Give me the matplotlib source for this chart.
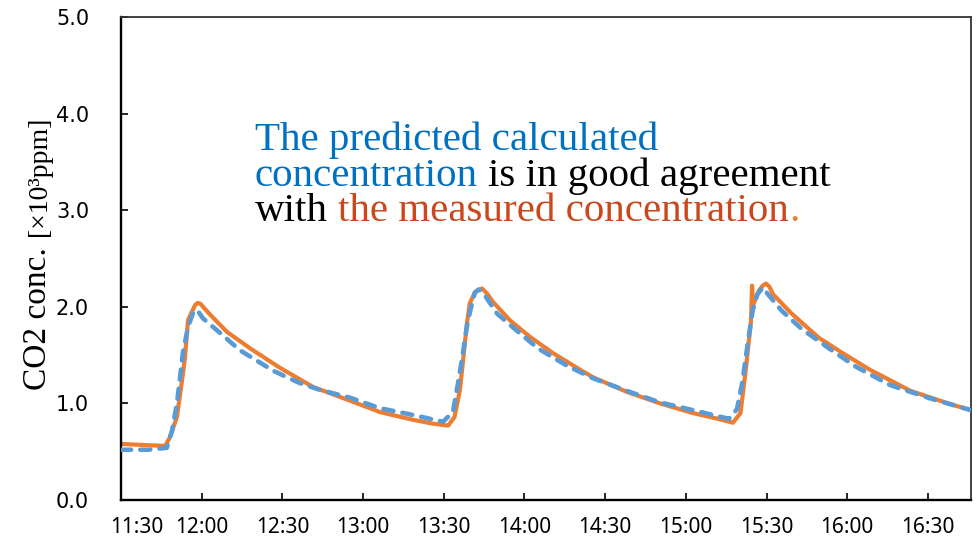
import numpy as np
import matplotlib.pyplot as plt

# minutes after 11:30
meas_t = [0, 8, 16.4, 18.2, 20.8, 22.7, 23.8, 24.9, 26.4, 27.6, 28.6, 29.6, 30.5, 33.1, 39.4, 48,
          59, 71.4, 84, 96.3, 108.6, 116, 121.6, 124, 126, 127.2, 128.6, 129.7, 131.6,
          134.2, 136, 138.3, 144.6, 152, 160.6, 170.6, 175.5, 188, 200.4, 212.6, 222,
          227.5, 230.3, 232.2, 234.2, 234.6, 235.0, 237.2, 238.6, 239.8, 241, 242.4, 249.3,
          259.4, 268.3, 278.3, 293.5, 308.6, 316]
meas_v = [0.58, 0.57, 0.56, 0.65, 0.86, 1.24, 1.48, 1.86, 1.95, 2.02, 2.04, 2.03, 2.00, 1.92,
          1.74, 1.57, 1.37, 1.17, 1.04, 0.91, 0.83, 0.79, 0.77, 0.86, 1.14, 1.45, 1.83, 2.04,
          2.15, 2.19, 2.14, 2.05, 1.86, 1.69, 1.52, 1.35, 1.27, 1.12, 1.00, 0.90, 0.84,
          0.80, 0.90, 1.33, 1.85, 2.22, 2.02, 2.17, 2.22, 2.24, 2.21, 2.13, 1.93,
          1.68, 1.52, 1.35, 1.13, 0.99, 0.93]

pred_t = [0, 10, 17, 19, 20.8, 22, 23, 24.9, 26.8, 28.2, 30.5, 36.8, 44.2, 56.5, 61, 66.5,
          74, 85, 96.3, 108.6, 119.7, 123.4, 125.3, 127, 128.6, 130, 131.6, 133, 134.5,
          139.8, 146, 155, 165.8, 175.5, 188, 200.4, 212.6, 226, 229, 231, 232.9, 234.8,
          236.6, 238.6, 240.5, 245.6, 253.1, 263.2, 273.2, 285.9, 301, 311, 316]
pred_v = [0.52, 0.52, 0.54, 0.72, 1.00, 1.28, 1.52, 1.79, 1.94, 1.97, 1.88, 1.73, 1.55, 1.34,
          1.28, 1.21, 1.14, 1.06, 0.95, 0.88, 0.81, 0.91, 1.21, 1.50, 1.80, 1.98, 2.15,
          2.18, 2.15, 1.93, 1.78, 1.57, 1.39, 1.26, 1.13, 1.01, 0.93, 0.84, 0.94, 1.22,
          1.60, 1.96, 2.13, 2.20, 2.13, 1.96, 1.77, 1.57, 1.38, 1.19, 1.05, 0.97, 0.93]

time_labels = ["11:30", "12:00", "12:30", "13:00", "13:30", "14:00",
               "14:30", "15:00", "15:30", "16:00", "16:30"]
y_ticks = [0, 1, 2, 3, 4, 5]

W, H = 978, 544
fig = plt.figure(figsize=(W / 100, H / 100), dpi=100)
ax = fig.add_axes([121 / W, 44 / H, 850 / W, 483 / H])

ax.plot(meas_t, meas_v, color="#ED7D31", lw=3.0, solid_joinstyle="round",
        solid_capstyle="round", zorder=2)
ax.plot(pred_t, pred_v, color="#5B9BD5", lw=3.3, dashes=(2.2, 2.0),
        dash_capstyle="round", dash_joinstyle="round", zorder=3)

ax.set_xlim(0, 316)
ax.set_ylim(0, 5)
tick_pos = [30 * i for i in range(len(time_labels))]
ax.set_xticks(tick_pos)
# first label is drawn separately, nudged right so it stays inside the frame
ax.set_xticklabels([""] + time_labels[1:], family="Noto Sans", fontsize=15)
ax.annotate(time_labels[0], xy=(tick_pos[0], 0), xycoords=("data", "axes fraction"),
            xytext=(11.5, -12), textcoords="offset points", ha="center", va="top",
            family="Noto Sans", fontsize=15)
ax.set_yticks(y_ticks)
ax.set_yticklabels([f"{v:.1f}" for v in y_ticks], family="DejaVu Sans", fontsize=15)
ax.tick_params(axis="x", direction="in", length=5, width=1.2, pad=12)
ax.tick_params(axis="y", direction="in", length=5, width=1.2, pad=23)

for s in ["left", "bottom"]:
    ax.spines[s].set_linewidth(1.7)
    ax.spines[s].set_color("black")
for s in ["top", "right"]:
    ax.spines[s].set_linewidth(1.3)
    ax.spines[s].set_color("#333333")


def fx(x):
    return x / W


def fy(y):
    return 1 - y / H


# y label
fig.text(fx(46), fy(390), "CO2 conc.", rotation=90, rotation_mode="anchor",
         ha="left", va="baseline", fontsize=24, family="Liberation Serif")
fig.text(fx(46), fy(236), "[×10³ppm]", rotation=90, rotation_mode="anchor",
         ha="left", va="baseline", fontsize=20, family=["Liberation Serif", "DejaVu Serif"])

# annotation with coloured parts
rend = fig.canvas.get_renderer()
fs = 29.5
blue_txt, red_txt = "#0070C0", "#C9491C"


def width(s):
    t = fig.text(0, 0, s, fontsize=fs, family="Liberation Serif")
    w = t.get_window_extent(rend).width
    t.remove()
    return w


space = width("n n") - width("nn")

lines = [
    (150, [("The predicted calculated", blue_txt, True)]),
    (186, [("concentration", blue_txt, True), ("is in good agreement", "black", True)]),
    (221, [("with", "black", True), ("the measured concentration", red_txt, True),
           (".", "#ED7D31", False)]),
]
for y, segs in lines:
    x = 255
    for i, (s, c, sp) in enumerate(segs):
        if i > 0 and sp:
            x += space
        t = fig.text(fx(x), fy(y), s, color=c, fontsize=fs, family="Liberation Serif",
                     va="baseline", ha="left")
        x += t.get_window_extent(rend).width

fig.savefig("out.png", dpi=100)
